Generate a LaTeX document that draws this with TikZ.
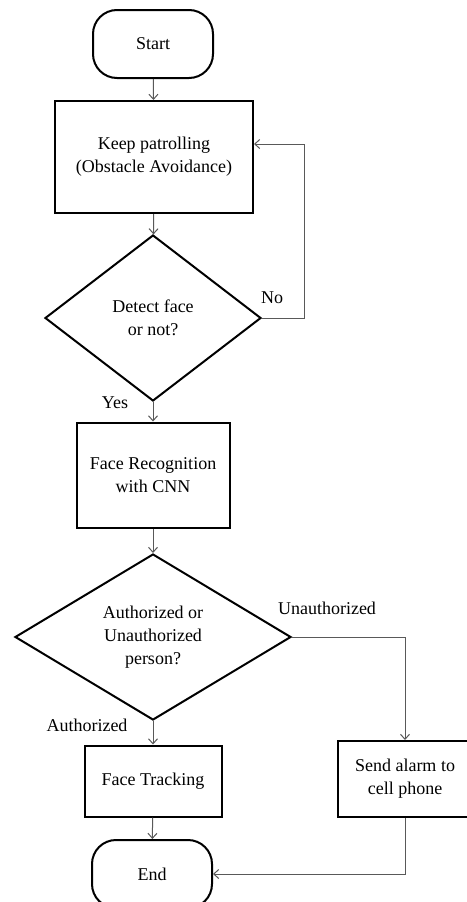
\documentclass[tikz,border=0pt]{standalone}
\usepackage{fontspec}
\setmainfont{Liberation Serif}
\usetikzlibrary{shapes.geometric,arrows.meta}
\begin{document}
\begin{tikzpicture}[x=1pt,y=-1pt,
  every node/.style={font=\fontsize{18}{23}\selectfont},
  box/.style={draw=black,line width=2pt,align=center,inner sep=0pt},
  term/.style={box,rounded corners=24pt,minimum width=120pt,minimum height=68pt},
  dec/.style={box,shape=diamond,aspect=1.6},
  conn/.style={draw=black!65,line width=1pt,-{Straight Barb[length=5pt,width=9pt]}},
  lbl/.style={inner sep=0pt}]
\useasboundingbox[fill=white] (0,0) rectangle (466,902);
\node[term] (start) at (153,44) {Start};
\node[box,minimum width=198pt,minimum height=112pt] (keep) at (154,157) {Keep patrolling\\(Obstacle Avoidance)};
\node[dec,minimum width=216pt,minimum height=166pt] (d1) at (153,318) {Detect face\\or not?};
\node[box,minimum width=153pt,minimum height=105pt] (rec) at (153,475) {Face Recognition\\with CNN};
\node[dec,minimum width=276pt,minimum height=166pt] (d2) at (153,637) {Authorized or\\Unauthorized\\person?};
\node[box,minimum width=137pt,minimum height=71pt] (track) at (153,781) {Face Tracking};
\node[box,minimum width=134pt,minimum height=76pt] (alarm) at (405,779) {Send alarm to\\cell phone};
\node[term] (end) at (152,874) {End};
\node[lbl] (no) at (272,298) {No};
\node[lbl] (yes) at (115,403) {Yes};
\node[lbl] (unauth) at (327,608) {Unauthorized};
\node[lbl] (auth) at (87,725) {Authorized};
\coordinate (loopc) at (304,318);
\draw[conn] (start) -- (keep);
\draw[conn] (keep) -- (d1);
\draw[conn] (d1.east) -- (loopc) |- ([yshift=13pt]keep.east);
\draw[conn] (d1) -- (rec);
\draw[conn] (rec) -- (d2);
\draw[conn] (d2) -- (track);
\draw[conn] (d2.east) -| (alarm.north);
\draw[conn] (track) -- (end);
\draw[conn] (alarm.south) |- (end.east);
\end{tikzpicture}
\end{document}
